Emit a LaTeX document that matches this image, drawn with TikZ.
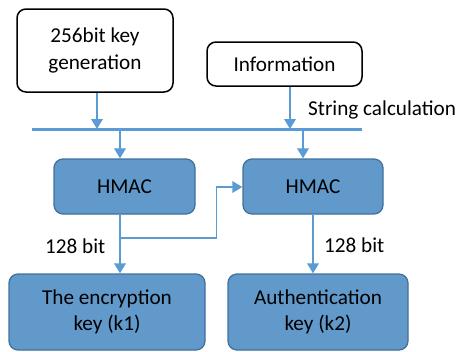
\documentclass[tikz,border=0pt]{standalone}
\usepackage{fontspec}
\setmainfont{Carlito}
\usetikzlibrary{arrows.meta}
\definecolor{boxfill}{HTML}{6199CB}
\definecolor{boxline}{HTML}{41719C}
\definecolor{arrcol}{HTML}{5B9BD5}
\tikzset{
  whitebox/.style={draw=black, line width=1.5pt, fill=white, rounded corners=9pt, align=center, inner sep=0pt},
  bluebox/.style={draw=boxline, line width=1.3pt, fill=boxfill, rounded corners=9pt, align=center, inner sep=0pt},
  arr/.style={draw=arrcol, line width=1.9pt, -{Triangle[width=11.5pt,length=10pt]}},
  barline/.style={draw=arrcol, line width=3pt},
  lbl/.style={inner sep=0pt, anchor=west}
}
\begin{document}
\begin{tikzpicture}[x=1pt,y=-1pt,font=\fontsize{21.2}{26.5}\selectfont]
\useasboundingbox (0,0) rectangle (465,351);
\node[whitebox, minimum width=156pt, minimum height=83pt] (key) at (95,50.5) {256bit key\\generation};
\node[whitebox, minimum width=155pt, minimum height=44pt] (info) at (284.5,64) {Information};
\node[bluebox, minimum width=141pt, minimum height=55pt] (h1) at (124.5,186.5) {HMAC};
\node[bluebox, minimum width=140pt, minimum height=55pt] (h2) at (313,186.5) {HMAC};
\node[bluebox, minimum width=196pt, minimum height=76pt] (k1) at (107,312) {The encryption\\key (k1)};
\node[bluebox, minimum width=180pt, minimum height=76pt] (k2) at (318,312) {Authentication\\key (k2)};
\coordinate (barL) at (32,129);
\coordinate (barR) at (362,129);
\draw[barline] (barL) -- (barR);
\node[lbl] (sc) at (308,110) {String calculation};
\draw[arr] (97,0 |- key.south) -- (97,0 |- barL);
\draw[arr] (290,0 |- info.south) -- (290,0 |- barL);
\draw[arr] (120,0 |- barL) -- (120,0 |- h1.north);
\draw[arr] (303,0 |- barL) -- (303,0 |- h2.north);
\draw[arr] (120,0 |- h1.south) -- (120,0 |- k1.north);
\coordinate (br) at (120,238);
\draw[arr] (br) -- (216.5,238) -- (216.5,187) -- (h2.west |- 0,187);
\draw[arr] (313,0 |- h2.south) -- (313,0 |- k2.north);
\node[lbl] (b1) at (45,246) {128 bit};
\node[lbl] (b2) at (324,245) {128 bit};
\end{tikzpicture}
\end{document}
